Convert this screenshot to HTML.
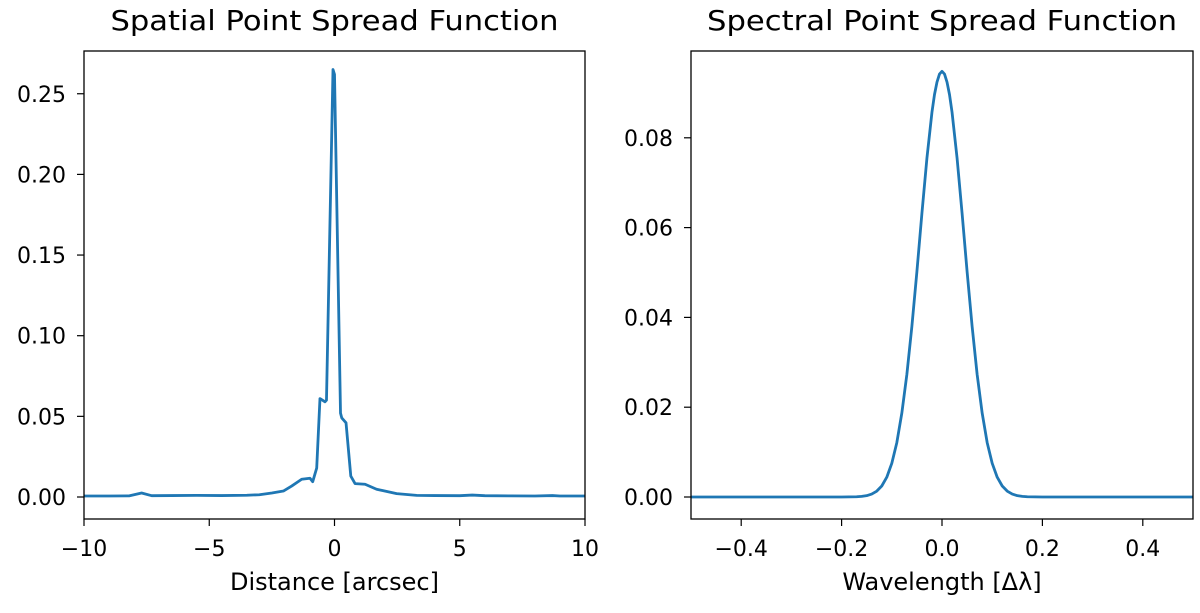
<!DOCTYPE html>
<html><head><meta charset="utf-8">
<style>
html,body{margin:0;padding:0;background:#fff;}
svg{display:block;font-family:"DejaVu Sans","Liberation Sans",sans-serif;}
</style></head>
<body>
<svg id="fig" width="1200" height="613" viewBox="0 0 1200 613">
<rect x="0" y="0" width="1200" height="613" fill="#fff"/>
</svg>
<script>
// Spatial PSF data (arcsec vs value)
const spatialX = [-10,-9,-8.2,-7.7,-7.3,-6.5,-5.5,-4.5,-3.5,-3,-2.5,-2.04,-1.71,-1.31,-0.98,-0.87,-0.71,-0.58,-0.38,-0.32,-0.06,0.0,0.24,0.29,0.46,0.65,0.82,1.22,1.68,2.48,3.28,4,5,5.5,6,7,8,8.7,9,10];
const spatialY = [0.0006,0.0006,0.0007,0.0025,0.0008,0.0009,0.0010,0.0009,0.0011,0.0014,0.0025,0.0037,0.0068,0.0110,0.0116,0.0095,0.018,0.061,0.059,0.060,0.265,0.262,0.052,0.049,0.046,0.013,0.0083,0.0079,0.0048,0.0021,0.0010,0.0009,0.0008,0.0012,0.0008,0.0007,0.0006,0.0009,0.0006,0.0006];
const spatialXTicks = [-10,-5,0,5,10];
const spatialXTickLabels = ["\u221210","\u22125","0","5","10"];
const spatialYTicks = [0,0.05,0.10,0.15,0.20,0.25];
const spatialYTickLabels = ["0.00","0.05","0.10","0.15","0.20","0.25"];

// Spectral PSF data
const spectralX = [-0.5,-0.2,-0.17,-0.16,-0.15,-0.14,-0.13,-0.12,-0.11,-0.10,-0.09,-0.08,-0.07,-0.06,-0.05,-0.04,-0.03,-0.02,-0.015,-0.01,-0.005,0,0.005,0.01,0.015,0.02,0.03,0.04,0.05,0.06,0.07,0.08,0.09,0.10,0.11,0.12,0.13,0.14,0.15,0.16,0.17,0.2,0.5];
const spectralY = [0,0,0.00005,0.00014,0.0003,0.00065,0.0013,0.00245,0.0044,0.0075,0.0121,0.0187,0.0273,0.0380,0.0502,0.0632,0.0755,0.0857,0.0896,0.0924,0.0942,0.0948,0.0942,0.0924,0.0896,0.0857,0.0755,0.0632,0.0502,0.0380,0.0273,0.0187,0.0121,0.0075,0.0044,0.00245,0.0013,0.00065,0.0003,0.00014,0.00005,0,0];
const spectralXTicks = [-0.4,-0.2,0,0.2,0.4];
const spectralXTickLabels = ["\u22120.4","\u22120.2","0.0","0.2","0.4"];
const spectralYTicks = [0,0.02,0.04,0.06,0.08];
const spectralYTickLabels = ["0.00","0.02","0.04","0.06","0.08"];

const NS="http://www.w3.org/2000/svg";
const svg=document.getElementById('fig');
function mk(tag,attrs,parent){const e=document.createElementNS(NS,tag);for(const k in attrs)e.setAttribute(k,attrs[k]);(parent||svg).appendChild(e);return e;}

function drawPanel(p){
  const g=mk('g',{});
  
  
  const sx=v=>p.x0+(v-p.xmin)/(p.xmax-p.xmin)*(p.x1-p.x0);
  const sy=v=>p.y1-(v-p.ymin)/(p.ymax-p.ymin)*(p.y1-p.y0);
  const cp=mk('clipPath',{id:p.name+'-clip'},g);
  mk('rect',{x:p.x0,y:p.y0,width:p.x1-p.x0,height:p.y1-p.y0},cp);
  let d='';
  for(let i=0;i<p.xs.length;i++){d+=(i?'L':'M')+sx(p.xs[i]).toFixed(2)+','+sy(p.ys[i]).toFixed(2);}
  const line=mk('path',{d:d,fill:'none',stroke:'#1f77b4','stroke-width':2.8,'stroke-linejoin':'round','clip-path':'url(#'+p.name+'-clip)'},g);
  
  
  const fr=mk('rect',{x:p.x0,y:p.y0,width:p.x1-p.x0,height:p.y1-p.y0,fill:'none',stroke:'#000','stroke-width':1.3},g);
  
  
  p.xt.forEach((v,i)=>{
    const x=sx(v);
    const tk=mk('line',{x1:x,x2:x,y1:p.y1,y2:p.y1+7,stroke:'#000','stroke-width':1.2},g);
    
    
    const t=mk('text',{x:x,y:p.y1+37,'font-size':22,'text-anchor':'middle',fill:'#000'},g);
    t.textContent=p.xtl[i];
    
    
  });
  p.yt.forEach((v,i)=>{
    const y=sy(v);
    const tk=mk('line',{x1:p.x0-7,x2:p.x0,y1:y,y2:y,stroke:'#000','stroke-width':1.2},g);
    
    
    const t=mk('text',{x:p.x0-18,y:y+8,'font-size':22,'text-anchor':'end',fill:'#000'},g);
    t.textContent=p.ytl[i];
    
    
  });
  const ti=mk('text',{x:(p.x0+p.x1)/2,y:30,'font-size':28,'text-anchor':'middle',fill:'#000',textLength:p.titleLen,lengthAdjust:'spacingAndGlyphs'},g);
  ti.textContent=p.title;
  
  
  const xl=mk('text',{x:(p.x0+p.x1)/2,y:590,'font-size':24,'text-anchor':'middle',fill:'#000'},g);
  xl.textContent=p.xlabel;
  
  
}

const zeroY=497, ppuL=1613, ppuR=4490;
drawPanel({name:'spatial-psf',x0:84,x1:585,y0:51,y1:519,xmin:-10,xmax:10,
  ymin:-(519-zeroY)/ppuL,ymax:(zeroY-51)/ppuL,xs:spatialX,ys:spatialY,
  xt:spatialXTicks,xtl:spatialXTickLabels,yt:spatialYTicks,ytl:spatialYTickLabels,
  title:'Spatial Point Spread Function',titleLen:448,xlabel:'Distance [arcsec]'});
drawPanel({name:'spectral-psf',x0:691,x1:1193,y0:51,y1:519,xmin:-0.5,xmax:0.5,
  ymin:-(519-zeroY)/ppuR,ymax:(zeroY-51)/ppuR,xs:spectralX,ys:spectralY,
  xt:spectralXTicks,xtl:spectralXTickLabels,yt:spectralYTicks,ytl:spectralYTickLabels,
  title:'Spectral Point Spread Function',titleLen:470,xlabel:'Wavelength [\u0394\u03BB]'});
</script>
</body></html>
